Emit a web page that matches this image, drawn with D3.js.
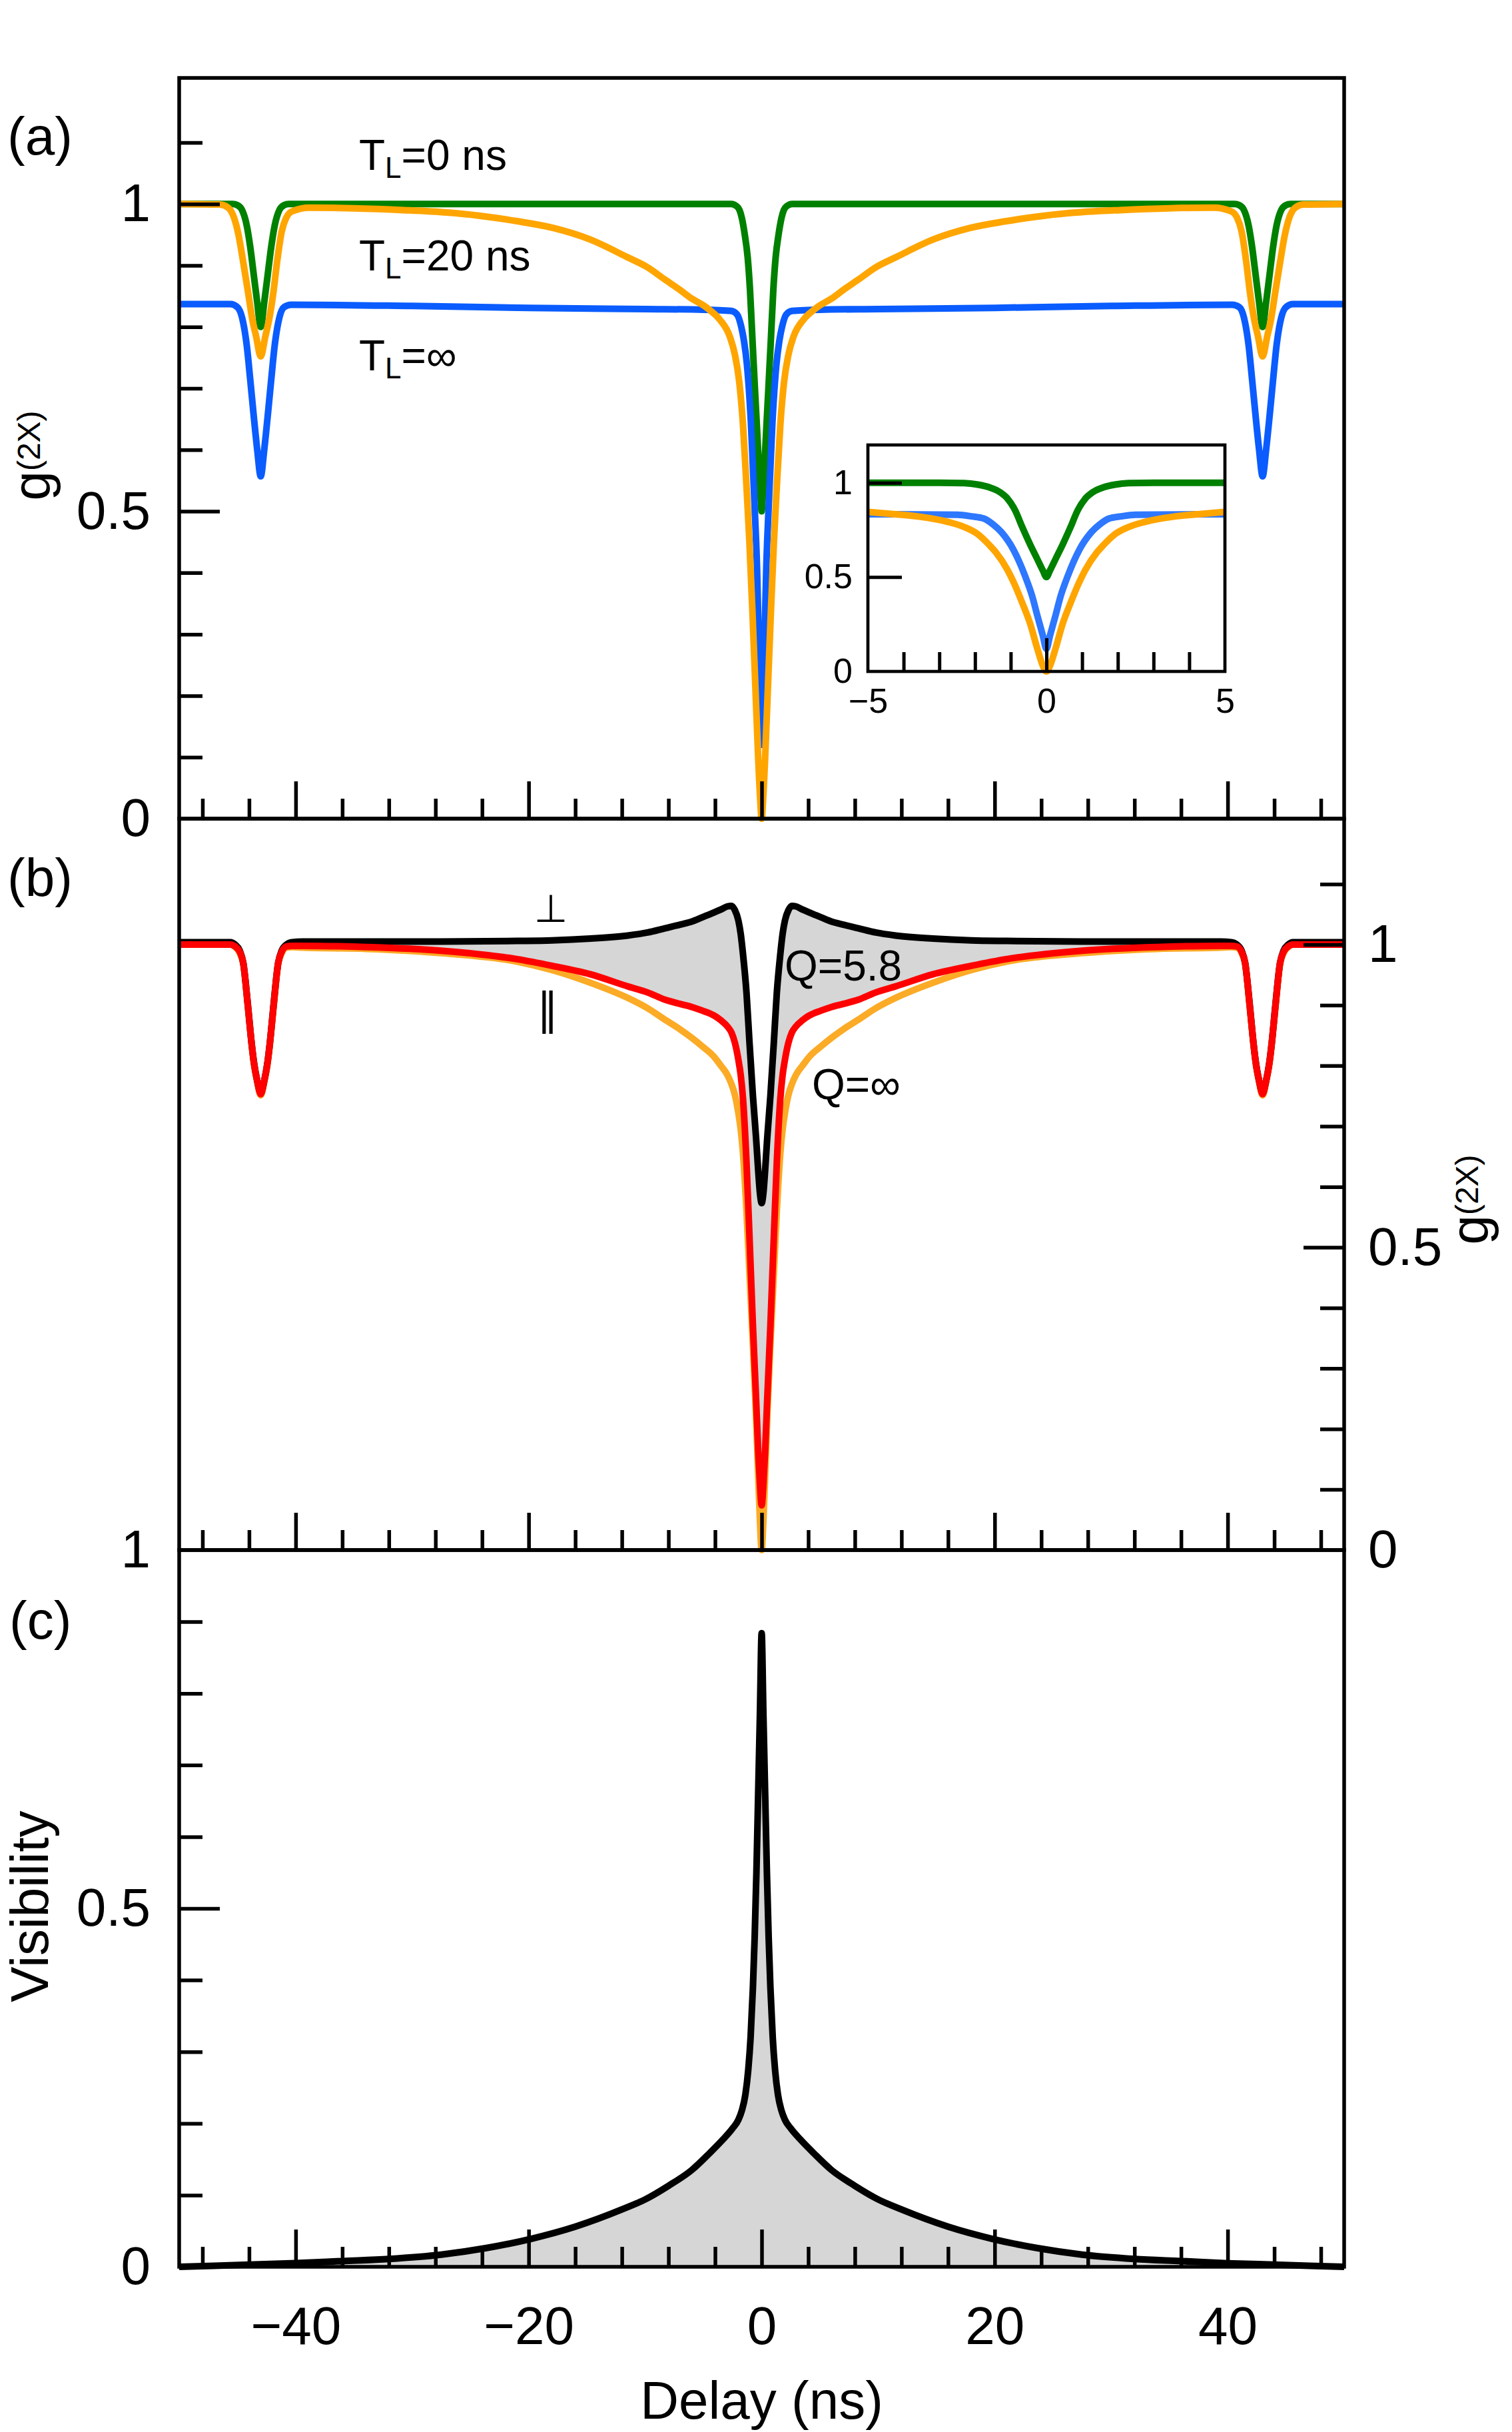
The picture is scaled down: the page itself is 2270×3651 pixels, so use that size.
<!DOCTYPE html>
<html><head><meta charset="utf-8">
<script src="https://cdn.jsdelivr.net/npm/d3@7"></script>
<style>
html,body{margin:0;padding:0;background:#fff;}
svg{display:block;}
</style></head><body>
<svg id="chart" width="2270" height="3651"></svg>
<script>
// ---------------- DATA ----------------
// Panel (a): g(2X) vs delay (ns)
const greenT0 = [[-50,1.0],[-45.4,1.0],[-45.0,0.998],[-44.6,0.99],[-44.2,0.965],[-43.9,0.93],[-43.6,0.885],[-43.3,0.84],[-43.0,0.80],[-42.7,0.84],[-42.4,0.885],[-42.1,0.93],[-41.8,0.965],[-41.4,0.99],[-41.0,0.998],[-40.6,1.0],
 [-30,1.0],[-20,1.0],[-10,1.0],[-2.6,1.0],[-2.2,0.997],[-1.9,0.99],[-1.7,0.977],[-1.45,0.95],[-1.2,0.913],[-1.0,0.86],[-0.78,0.775],[-0.58,0.7],[-0.4,0.635],[-0.2,0.56],[-0.08,0.52],[0,0.5],
 [0.08,0.52],[0.2,0.56],[0.4,0.635],[0.58,0.7],[0.78,0.775],[1.0,0.86],[1.2,0.913],[1.45,0.95],[1.7,0.977],[1.9,0.99],[2.2,0.997],[2.6,1.0],[10,1.0],[20,1.0],[30,1.0],
 [40.6,1.0],[41.0,0.998],[41.4,0.99],[41.8,0.965],[42.1,0.93],[42.4,0.885],[42.7,0.84],[43.0,0.80],[43.3,0.84],[43.6,0.885],[43.9,0.93],[44.2,0.965],[44.6,0.99],[45.0,0.998],[45.4,1.0],[50,1.0]];

const blueTinf = [[-50,0.837],[-45.6,0.837],[-45.0,0.832],[-44.6,0.815],[-44.2,0.77],[-43.9,0.714],[-43.6,0.655],[-43.3,0.6],[-43.0,0.557],[-42.7,0.6],[-42.4,0.655],[-42.1,0.714],[-41.8,0.77],[-41.4,0.815],[-41.0,0.832],[-40.4,0.836],
 [-30,0.834],[-20,0.831],[-10,0.829],[-5,0.828],[-2.6,0.826],[-2.1,0.82],[-1.75,0.80],[-1.5,0.775],[-1.26,0.738],[-0.92,0.644],[-0.59,0.502],[-0.4,0.41],[-0.26,0.30],[-0.1,0.19],[0,0.12],
 [0.1,0.19],[0.26,0.30],[0.4,0.41],[0.59,0.502],[0.92,0.644],[1.26,0.738],[1.5,0.775],[1.75,0.80],[2.1,0.82],[2.6,0.826],[5,0.828],[10,0.829],[20,0.831],[30,0.834],
 [40.4,0.836],[41.0,0.832],[41.4,0.815],[41.8,0.77],[42.1,0.714],[42.4,0.655],[42.7,0.6],[43.0,0.557],[43.3,0.6],[43.6,0.655],[43.9,0.714],[44.2,0.77],[44.6,0.815],[45.0,0.832],[45.6,0.837],[50,0.837]];

const orangeT20 = [[-50,1.0],[-46.5,0.999],[-45.8,0.994],[-45.3,0.978],[-44.9,0.949],[-44.5,0.905],[-44.1,0.858],[-43.7,0.81],[-43.4,0.785],[-43.0,0.752],[-42.6,0.785],[-42.3,0.81],[-41.9,0.858],[-41.6,0.905],[-41.2,0.955],[-40.8,0.978],[-40.3,0.988],
 [-38.8,0.994],[-35,0.993],[-30.75,0.990],[-27,0.986],[-24.3,0.981],[-21,0.972],[-17.9,0.961],[-14.7,0.942],[-11.6,0.914],[-9.8,0.897],[-8.3,0.877],[-7,0.86],[-6,0.846],[-5,0.835],[-4.5,0.828],[-3.6,0.812],
 [-2.75,0.785],[-2.3,0.755],[-1.92,0.71],[-1.6,0.64],[-1.3,0.54],[-1.05,0.45],[-0.8,0.34],[-0.55,0.22],[-0.3,0.1],[-0.12,0.03],[0,0.0],
 [0.12,0.03],[0.3,0.1],[0.55,0.22],[0.8,0.34],[1.05,0.45],[1.3,0.54],[1.6,0.64],[1.92,0.71],[2.3,0.755],[2.75,0.785],
 [3.6,0.812],[4.5,0.828],[5,0.835],[6,0.846],[7,0.86],[8.3,0.877],[9.8,0.897],[11.6,0.914],[14.7,0.942],[17.9,0.961],[21,0.972],[24.3,0.981],[27,0.986],[30.75,0.990],[35,0.993],[38.8,0.994],
 [40.3,0.988],[40.8,0.978],[41.2,0.955],[41.6,0.905],[41.9,0.858],[42.3,0.81],[42.6,0.785],[43.0,0.752],[43.4,0.785],[43.7,0.81],[44.1,0.858],[44.5,0.905],[44.9,0.949],[45.3,0.978],[45.8,0.994],[46.5,0.999],[50,1.0]];

// Inset of panel (a), delay -5..5 ns
const insetGreen = [[-5,1.0],[-3,1.0],[-2.3,0.998],[-1.92,0.99],[-1.59,0.975],[-1.3,0.95],[-1.09,0.916],[-0.88,0.855],[-0.67,0.762],[-0.45,0.67],[-0.26,0.597],[-0.1,0.535],[0,0.5],
 [0.1,0.535],[0.26,0.597],[0.45,0.67],[0.67,0.762],[0.88,0.855],[1.09,0.916],[1.3,0.95],[1.59,0.975],[1.92,0.99],[2.3,0.998],[3,1.0],[5,1.0]];
const insetBlue = [[-5,0.833],[-2.5,0.83],[-2.1,0.822],[-1.75,0.81],[-1.5,0.78],[-1.26,0.738],[-0.92,0.644],[-0.59,0.502],[-0.4,0.4],[-0.26,0.3],[-0.1,0.19],[0,0.12],
 [0.1,0.19],[0.26,0.3],[0.4,0.4],[0.59,0.502],[0.92,0.644],[1.26,0.738],[1.5,0.78],[1.75,0.81],[2.1,0.822],[2.5,0.83],[5,0.833]];
const insetOrange = [[-5,0.845],[-4.3,0.834],[-3.59,0.821],[-2.75,0.792],[-2.3,0.765],[-1.92,0.727],[-1.6,0.67],[-1.42,0.632],[-1.09,0.538],[-0.9,0.465],[-0.67,0.36],[-0.45,0.25],[-0.26,0.124],[-0.1,0.03],[0,0.0],
 [0.1,0.03],[0.26,0.124],[0.45,0.25],[0.67,0.36],[0.9,0.465],[1.09,0.538],[1.42,0.632],[1.6,0.67],[1.92,0.727],[2.3,0.765],[2.75,0.792],[3.59,0.821],[4.3,0.834],[5,0.845]];

// Panel (b): shared delay grid, perpendicular (Q=5.8, black), parallel (red), Q=inf (orange)
const delayB = [-50,-45.6,-45.2,-44.8,-44.5,-44.1,-43.8,-43.6,-43.3,-43.0,-42.7,-42.4,-42.2,-41.9,-41.5,-41.2,-40.8,-40.3,
 -39.4,-34,-27.5,-21,-18,-14.7,-11.5,-9.8,-8.3,-7,-6,-5.1,-4.1,-3.5,-2.95,-2.6,-2.3,-2.0,-1.8,-1.6,-1.3,-1.05,-0.75,-0.48,-0.29,-0.15,
 0,
 0.15,0.29,0.48,0.75,1.05,1.3,1.6,1.8,2.0,2.3,2.6,2.95,3.5,4.1,5.1,6,7,8.3,9.8,11.5,14.7,18,21,27.5,34,39.4,
 40.3,40.8,41.2,41.5,41.9,42.2,42.4,42.7,43.0,43.3,43.6,43.8,44.1,44.5,44.8,45.2,45.6,50];
const gPerp = [1.004,1.004,1.0,0.99,0.97,0.9,0.84,0.808,0.775,0.755,0.775,0.808,0.84,0.9,0.97,0.99,1.0,1.004,
 1.005,1.005,1.005,1.006,1.007,1.01,1.015,1.02,1.027,1.033,1.038,1.045,1.053,1.058,1.063,1.064,1.057,1.04,1.018,0.984,0.92,0.84,0.75,0.681,0.625,0.59,
 0.573,
 0.59,0.625,0.681,0.75,0.84,0.92,0.984,1.018,1.04,1.057,1.064,1.063,1.058,1.053,1.045,1.038,1.033,1.027,1.02,1.015,1.01,1.007,1.006,1.005,1.005,1.005,
 1.004,1.0,0.99,0.97,0.9,0.84,0.808,0.775,0.755,0.775,0.808,0.84,0.9,0.97,0.99,1.0,1.004,1.004];
const gPar = [1.0,1.0,0.997,0.988,0.97,0.898,0.84,0.807,0.775,0.753,0.775,0.807,0.84,0.898,0.97,0.988,0.997,0.998,
 0.998,0.996,0.99,0.976,0.965,0.951,0.931,0.921,0.909,0.902,0.897,0.891,0.883,0.875,0.865,0.855,0.838,0.81,0.785,0.745,0.64,0.52,0.37,0.25,0.16,0.11,
 0.074,
 0.11,0.16,0.25,0.37,0.52,0.64,0.745,0.785,0.81,0.838,0.855,0.865,0.875,0.883,0.891,0.897,0.902,0.909,0.921,0.931,0.951,0.965,0.976,0.99,0.996,0.998,
 0.998,0.997,0.988,0.97,0.898,0.84,0.807,0.775,0.753,0.775,0.807,0.84,0.898,0.97,0.988,0.997,1.0,1.0];
const gQinf = [1.0,1.0,0.996,0.986,0.968,0.896,0.838,0.805,0.773,0.751,0.773,0.805,0.838,0.896,0.968,0.986,0.995,0.996,
 0.995,0.993,0.986,0.972,0.958,0.937,0.912,0.895,0.876,0.86,0.846,0.832,0.815,0.80,0.785,0.77,0.752,0.722,0.695,0.655,0.56,0.46,0.34,0.22,0.12,0.05,
 0.0,
 0.05,0.12,0.22,0.34,0.46,0.56,0.655,0.695,0.722,0.752,0.77,0.785,0.80,0.815,0.832,0.846,0.86,0.876,0.895,0.912,0.937,0.958,0.972,0.986,0.993,0.995,
 0.996,0.995,0.986,0.968,0.896,0.838,0.805,0.773,0.751,0.773,0.805,0.838,0.896,0.968,0.986,0.996,1.0,1.0];

// Panel (c): visibility
const visibility = [[-50,0.0],[-44,0.003],[-40,0.005],[-36,0.008],[-32,0.011],[-27.5,0.017],[-23.7,0.026],[-19.8,0.039],[-16,0.056],[-12,0.08],[-10,0.094],[-8,0.113],[-6,0.135],[-4.5,0.158],[-3.3,0.178],[-2.5,0.193],[-2.0,0.205],[-1.7,0.218],[-1.4,0.24],[-1.15,0.275],[-0.95,0.32],[-0.75,0.39],[-0.6,0.46],[-0.45,0.55],[-0.3,0.66],[-0.15,0.77],[0,0.884],
 [0.15,0.77],[0.3,0.66],[0.45,0.55],[0.6,0.46],[0.75,0.39],[0.95,0.32],[1.15,0.275],[1.4,0.24],[1.7,0.218],[2.0,0.205],[2.5,0.193],[3.3,0.178],[4.5,0.158],[6,0.135],[8,0.113],[10,0.094],[12,0.08],[16,0.056],[19.8,0.039],[23.7,0.026],[27.5,0.017],[32,0.011],[36,0.008],[40,0.005],[44,0.003],[50,0.0]];

// Ticks and labels
const xMinorTicks = [-48,-44,-36,-32,-28,-24,-16,-12,-8,-4,4,8,12,16,24,28,32,36,44,48];
const xMajorTicks = [-40,-20,0,20,40];
const xTickLabels = [-40,-20,0,20,40];
const gMinorTicks = [0.1,0.2,0.3,0.4,0.6,0.7,0.8,0.9,1.1];
const gMajorTicks = [0.5,1];
const gTickLabels = [0,0.5,1];
const visMinorTicks = [0.1,0.2,0.3,0.4,0.6,0.7,0.8,0.9];
const visMajorTicks = [0.5];
const visTickLabels = [0,0.5,1];
const insetXMinorTicks = [-4,-3,-2,-1,1,2,3,4];
const insetXMajorTicks = [0];
const insetXLabels = [-5,0,5];
const insetYMajorTicks = [0.5,1];
const insetYLabels = [0,0.5,1];

// ---------------- DRAWING ----------------
const FONT = '"Liberation Sans", Arial, Helvetica, sans-serif';
const SYM = '"DejaVu Sans", "Liberation Sans", sans-serif';
const C = {green:'#008000', blue:'#0a5cff', blueInset:'#2e77ff', orange:'#ffa500', orangeB:'#fbab26', red:'#ff0000', fill:'#d6d6d6'};
const LW = 10, FW = 5.5;
const L = 269, R = 2018;
const A = {top:117, bottom:1229}, B = {top:1229, bottom:2327}, Cp = {top:2327, bottom:3403};

const svg = d3.select('#chart').attr('font-family', FONT);
const xS = d3.scaleLinear().domain([-50,50]).range([L,R]);
const yA = d3.scaleLinear().domain([0,1.205]).range([A.bottom,A.top]);
const yB = d3.scaleLinear().domain([0,1.208]).range([B.bottom,B.top]);
const yC = d3.scaleLinear().domain([0,1]).range([Cp.bottom,Cp.top]);
const xI = d3.scaleLinear().domain([-5,5]).range([1303,1839]);
const yI = d3.scaleLinear().domain([0,1.2]).range([1008,668]);

const fmt = d => d < 0 ? '\u2212' + Math.abs(d) : String(d);

function path(data, xs, ys, color, w) {
  const line = d3.line().x(d=>xs(d[0])).y(d=>ys(d[1])).curve(d3.curveMonotoneX);
  svg.append('path').datum(data).attr('d', line).attr('fill','none').attr('stroke',color).attr('stroke-width',w);
}
function ticks(gen, tf, sw) {
  const g = svg.append('g').attr('transform', tf).call(gen);
  g.select('.domain').remove();
  g.selectAll('.tick text').remove();
  g.selectAll('.tick line').attr('stroke','#000').attr('stroke-width',sw);
  return g;
}
function labels(gen, tf, size) {
  const g = svg.append('g').attr('transform', tf).call(gen);
  g.select('.domain').remove();
  g.selectAll('.tick line').remove();
  g.attr('font-size', size).attr('font-family', FONT);
  g.selectAll('text').attr('fill','#000');
  return g;
}
function frame(p) {
  svg.append('rect').attr('x',L).attr('y',p.top).attr('width',R-L).attr('height',p.bottom-p.top)
    .attr('fill','none').attr('stroke','#000').attr('stroke-width',FW);
}

// ----- Panel (a)
path(greenT0, xS, yA, C.green, LW);
path(blueTinf, xS, yA, C.blue, LW);
path(orangeT20, xS, yA, C.orange, LW);

// ----- Panel (b)
const rowsB = delayB.map((t,i)=>({t, perp:gPerp[i], par:gPar[i], qinf:gQinf[i]}));
svg.append('path').datum(rowsB)
  .attr('d', d3.area().x(d=>xS(d.t)).y0(d=>yB(d.par)).y1(d=>yB(d.perp)).curve(d3.curveMonotoneX))
  .attr('fill', C.fill);
path(rowsB.map(d=>[d.t,d.qinf]), xS, yB, C.orangeB, LW);
path(rowsB.map(d=>[d.t,d.perp]), xS, yB, '#000', LW);
path(rowsB.map(d=>[d.t,d.par]), xS, yB, C.red, LW);

// ----- Panel (c)
svg.append('path').datum(visibility)
  .attr('d', d3.area().x(d=>xS(d[0])).y0(yC(0)).y1(d=>yC(d[1])).curve(d3.curveMonotoneX))
  .attr('fill', C.fill);
path(visibility, xS, yC, '#000', LW);

// ----- Frames & axes
[A,B,Cp].forEach(frame);
[A.bottom, B.bottom, Cp.bottom].forEach(yb => {
  ticks(d3.axisBottom(xS).tickValues(xMinorTicks).tickSize(-30), `translate(0,${yb})`, FW);
  ticks(d3.axisBottom(xS).tickValues(xMajorTicks).tickSize(-56), `translate(0,${yb})`, FW);
});
// panel (a) left axis
ticks(d3.axisLeft(yA).tickValues(gMinorTicks).tickSize(-35), `translate(${L},0)`, FW);
ticks(d3.axisLeft(yA).tickValues(gMajorTicks).tickSize(-61), `translate(${L},0)`, FW);
labels(d3.axisLeft(yA).tickValues(gTickLabels).tickSize(0).tickPadding(43).tickFormat(fmt), `translate(${L},0)`, 80);
// panel (b) right axis
ticks(d3.axisRight(yB).tickValues(gMinorTicks).tickSize(-36), `translate(${R},0)`, FW);
ticks(d3.axisRight(yB).tickValues(gMajorTicks).tickSize(-61), `translate(${R},0)`, FW);
labels(d3.axisRight(yB).tickValues(gTickLabels).tickSize(0).tickPadding(36).tickFormat(fmt), `translate(${R},0)`, 80);
// panel (c) left & bottom
ticks(d3.axisLeft(yC).tickValues(visMinorTicks).tickSize(-35), `translate(${L},0)`, FW);
ticks(d3.axisLeft(yC).tickValues(visMajorTicks).tickSize(-61), `translate(${L},0)`, FW);
labels(d3.axisLeft(yC).tickValues(visTickLabels).tickSize(0).tickPadding(43).tickFormat(fmt), `translate(${L},0)`, 80);
labels(d3.axisBottom(xS).tickValues(xTickLabels).tickSize(0).tickPadding(59).tickFormat(fmt), `translate(0,${Cp.bottom})`, 80);

// ----- Inset
svg.append('rect').attr('x',xI(-5)).attr('y',yI(1.2)).attr('width',xI(5)-xI(-5)).attr('height',yI(0)-yI(1.2))
  .attr('fill','#fff');
path(insetGreen, xI, yI, C.green, LW);
path(insetBlue, xI, yI, C.blueInset, LW);
path(insetOrange, xI, yI, C.orange, LW);
svg.append('rect').attr('x',xI(-5)).attr('y',yI(1.2)).attr('width',xI(5)-xI(-5)).attr('height',yI(0)-yI(1.2))
  .attr('fill','none').attr('stroke','#000').attr('stroke-width',4.7);
ticks(d3.axisBottom(xI).tickValues(insetXMinorTicks).tickSize(-29), `translate(0,${yI(0)})`, 5);
ticks(d3.axisBottom(xI).tickValues(insetXMajorTicks).tickSize(-50), `translate(0,${yI(0)})`, 5);
ticks(d3.axisLeft(yI).tickValues(insetYMajorTicks).tickSize(-51), `translate(${xI(-5)},0)`, 5);
labels(d3.axisBottom(xI).tickValues(insetXLabels).tickSize(0).tickPadding(25).tickFormat(fmt), `translate(0,${yI(0)})`, 52);
labels(d3.axisLeft(yI).tickValues(insetYLabels).tickSize(0).tickPadding(23).tickFormat(fmt), `translate(${xI(-5)},0)`, 52);

// ----- Text annotations
function txt(x, y, s, size, opts={}) {
  const t = svg.append('text').attr('x',x).attr('y',y).attr('font-size',size).attr('fill','#000').text(s);
  if (opts.anchor) t.attr('text-anchor', opts.anchor);
  if (opts.family) t.attr('font-family', opts.family);
  return t;
}
txt(11, 232, '(a)', 80);
txt(11, 1345, '(b)', 80);
txt(14, 2460, '(c)', 80);

function tl(y, rest) {
  const t = svg.append('text').attr('x',539).attr('y',y).attr('font-size',64).attr('fill','#000');
  t.append('tspan').text('T');
  t.append('tspan').attr('font-size',44).attr('dy',12).text('L');
  t.append('tspan').attr('dy',-12).text(rest);
}
tl(255, '=0 ns');
tl(406, '=20 ns');
tl(556, '=\u221E');

txt(827, 1384, '\u22A5', 58, {anchor:'middle', family:SYM});
txt(822, 1538, '\u2225', 66, {anchor:'middle', family:SYM});
txt(1178, 1472, 'Q=5.8', 64);
txt(1219, 1650, 'Q=\u221E', 64);

function gLabel(x, y) {
  const t = svg.append('text').attr('transform',`translate(${x},${y}) rotate(-90)`)
    .attr('text-anchor','middle').attr('font-size',80).attr('fill','#000');
  t.append('tspan').text('g');
  t.append('tspan').attr('font-size',48).attr('dy',-14).text('(2X)');
}
gLabel(74, 684);
gLabel(2233, 1801);

svg.append('text').attr('transform','translate(72,2862) rotate(-90)').attr('text-anchor','middle')
  .attr('font-size',80).attr('fill','#000').text('Visibility');
txt(1143.5, 3631, 'Delay (ns)', 80, {anchor:'middle'});
</script></body></html>
